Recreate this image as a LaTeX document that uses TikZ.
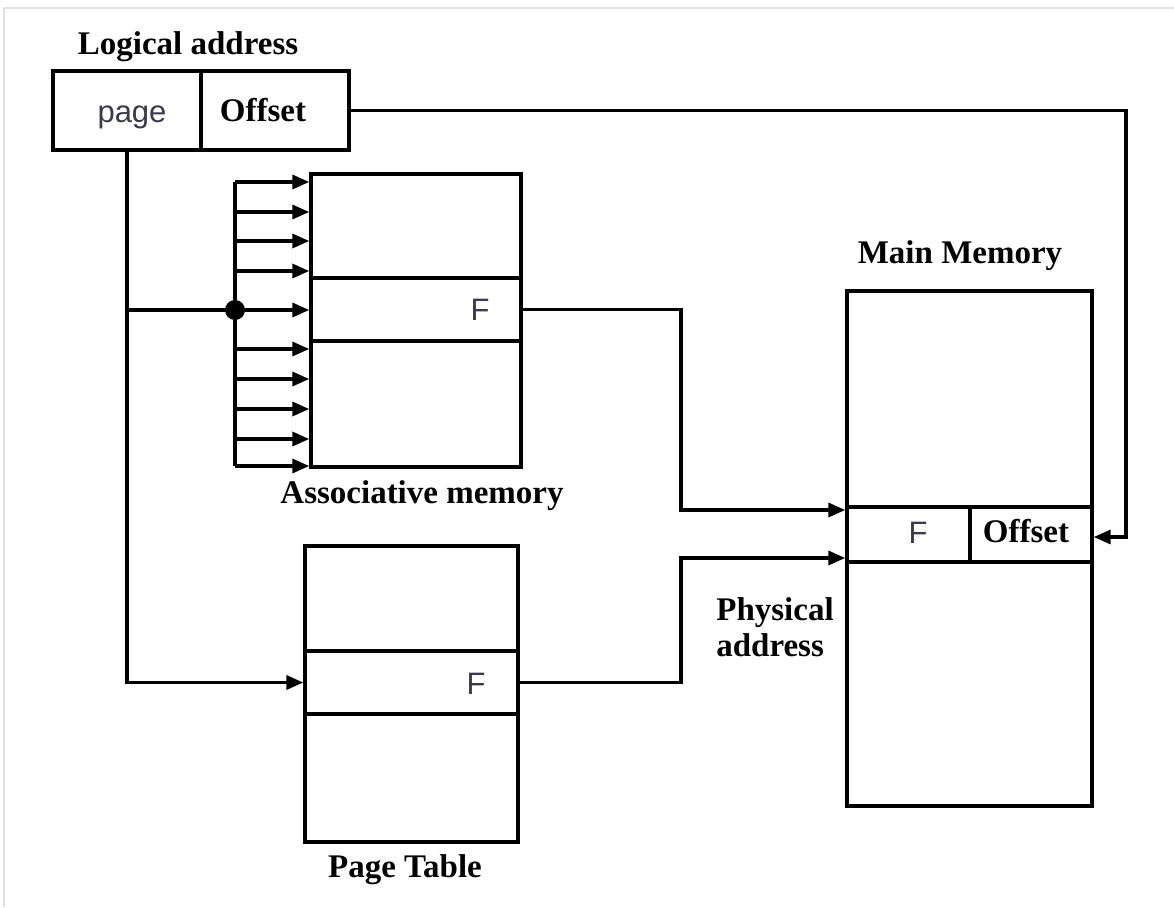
\documentclass[tikz,border=0pt]{standalone}
\usepackage{fontspec}
\setmainfont{Liberation Serif}
\newfontfamily\sansfam{Liberation Sans}
\usepackage{tikz}
\usetikzlibrary{arrows.meta}
\definecolor{slate}{HTML}{3A3A4C}
\newcommand\lblfont{\fontsize{33}{40}\selectfont\bfseries}
\newcommand\cellfont{\sansfam\fontsize{31}{36}\selectfont\color{slate}}

\begin{document}
\begin{tikzpicture}[x=1pt,y=-1pt,
    line width=3.4pt,
    cell/.style={draw, inner sep=0pt},
    lbl/.style={font=\lblfont, inner sep=0pt},
    sf/.style={font=\cellfont, inner sep=0pt},
    arr/.style={-{Triangle[length=17pt,width=14pt]}}
  ]
  \useasboundingbox (0,0) rectangle (1174,907);
  \draw[black!12, line width=1.5pt] (4,907) -- (4,8) -- (1174,8);

  % logical address
  \node[lbl] (lalbl) at (188,47) {Logical address};
  \node[cell, minimum width=148pt, minimum height=79pt] (page) at (127,110.5) {};
  \node[cell, minimum width=148pt, minimum height=79pt] (off) at (275,110.5) {};
  \node[sf, text height=22pt, text depth=6pt] (pagetxt) at (132,114) {page};
  \node[lbl] (offtxt) at (263,110) {Offset};

  % associative memory
  \node[cell, minimum width=210pt, minimum height=293pt] (am) at (416,320.5) {};
  \node[cell, minimum width=210pt, minimum height=63pt] (amrow) at (416,309.5) {};
  \node[sf] (amF) at (480,310) {F};
  \node[lbl] (amlbl) at (422,496) {Associative memory};

  % page table
  \node[cell, minimum width=213pt, minimum height=296pt] (pt) at (411.5,694) {};
  \node[cell, minimum width=213pt, minimum height=63pt] (ptrow) at (411.5,682.5) {};
  \node[sf] (ptF) at (476,684) {F};
  \node[lbl] (ptlbl) at (405,870) {Page Table};

  % main memory
  \node[cell, minimum width=245pt, minimum height=515pt] (mm) at (969.5,548.5) {};
  \node[cell, minimum width=123pt, minimum height=55pt] (mmF) at (908.5,534.5) {};
  \node[cell, minimum width=122pt, minimum height=55pt] (mmoff) at (1031,534.5) {};
  \node[sf] (mmFtxt) at (918,533) {F};
  \node[lbl] (mmofftxt) at (1026,531) {Offset};
  \node[lbl] (mmlbl) at (960,256) {Main Memory};
  \node[lbl, align=left] (phys) at (775,627) {Physical\\[-4pt]address};

  % search lines into the associative memory
  \coordinate (bustop) at (235,182);
  \coordinate (busbot) at (235,466);
  \coordinate (dot) at (235,310);
  \draw (bustop) -- (busbot);
  \foreach \y in {182,212,241,271,310,349,379,409,439,466}
    \draw[arr] (235,\y) -- (am.west |- 0,\y);
  \fill (dot) circle (10pt);

  % page number
  \draw[arr] (page.south) |- (ptrow.west);
  \draw (page.south |- dot) -- (dot);

  % frame numbers to main memory
  \draw[arr] (amrow.east) -- (681,309.5) -- (681,510) -- (mm.west |- 0,510);
  \draw[arr] (ptrow.east) -- (681,682.5) -- (681,558) -- (mm.west |- 0,558);

  % offset
  \draw[arr] (off.east) -- (1126,110.5) -- (1126,537) -- (mmoff.east |- 0,537);
\end{tikzpicture}
\end{document}
